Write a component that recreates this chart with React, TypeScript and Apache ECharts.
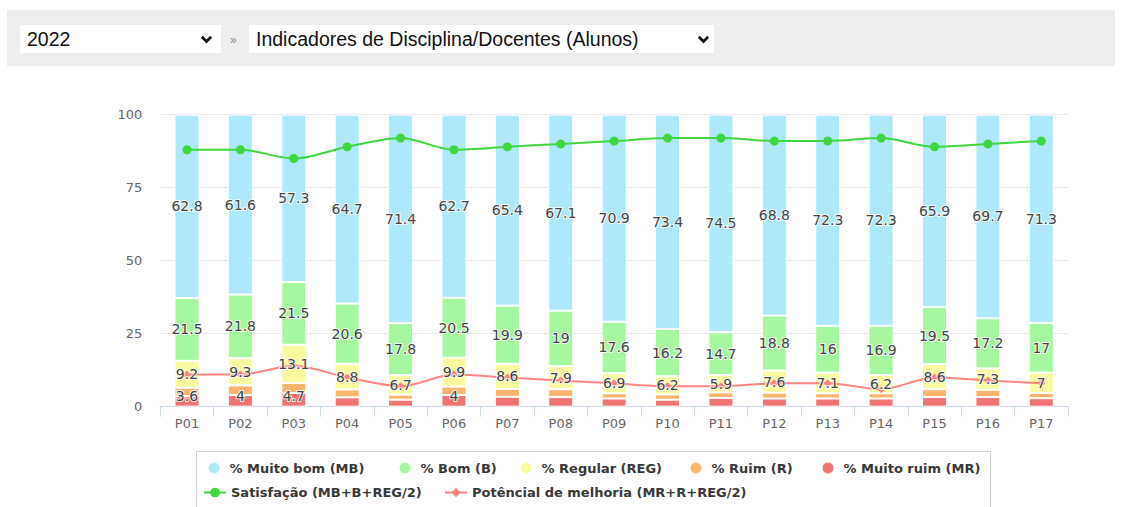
import React, { useEffect, useRef } from "react";
import * as echarts from "echarts";

const categories = ["P01","P02","P03","P04","P05","P06","P07","P08","P09","P10","P11","P12","P13","P14","P15","P16","P17"];
const muitoBom = [62.8,61.6,57.3,64.7,71.4,62.7,65.4,67.1,70.9,73.4,74.5,68.8,72.3,72.3,65.9,69.7,71.3];
const bom = [21.5,21.8,21.5,20.6,17.8,20.5,19.9,19,17.6,16.2,14.7,18.8,16,16.9,19.5,17.2,17];
const regular = [9.2,9.3,13.1,8.8,6.7,9.9,8.6,7.9,6.9,6.2,5.9,7.6,7.1,6.2,8.6,7.3,7];
const ruim = [2.9,3.3,3.4,2.7,1.7,2.9,2.7,2.7,1.8,1.8,1.9,2.0,1.8,1.8,2.7,2.5,1.8];
const muitoRuim = [3.6,4,4.7,3.2,2.4,4,3.4,3.3,2.8,2.4,3.0,2.8,2.8,2.8,3.3,3.3,2.9];
const satisfacao = [88,88,85,89,92,88,89,90,91,92,92,91,91,92,89,90,91];
const potencial = [11,11,14,10,7,11,10,9,8,7,7,8,8,6,10,9,8];

const yMin = 0;
const yMax = 100;
const yInterval = 25;

const names = {
  mb: "% Muito bom (MB)",
  b: "% Bom (B)",
  reg: "% Regular (REG)",
  r: "% Ruim (R)",
  mr: "% Muito ruim (MR)",
  sat: "Satisfação (MB+B+REG/2)",
  pot: "Potêncial de melhoria (MR+R+REG/2)",
};

const colors = {
  mb: "#aee9fb",
  b: "#a5f8a0",
  reg: "#fafaa0",
  r: "#fbb56c",
  mr: "#f07474",
  sat: "#3fd63f",
  pot: "#ff8585",
};

const FONT = '"DejaVu Sans", Verdana, sans-serif';

function Chevron({ left }: { left: number }) {
  return (
    <svg
      style={{ position: "absolute", left, top: 35, width: 13, height: 9 }}
      viewBox="0 0 13 9"
    >
      <polyline points="1.8,1.8 6.5,6.5 11.2,1.8" fill="none" stroke="#111" strokeWidth={2.7} />
    </svg>
  );
}

export default function App() {
  const ref = useRef<HTMLDivElement>(null);

  useEffect(() => {
    if (!ref.current) return;
    const chart = echarts.init(ref.current, null, { renderer: "svg" });

    const labelFmt = (p: any) => (p.value >= 3.5 ? String(p.value) : "");
    const labelStyle = {
      show: true,
      formatter: labelFmt,
      fontFamily: FONT,
      fontSize: 14,
      fontWeight: "normal",
      color: "#444444",
      textBorderColor: "rgba(255,255,255,0.85)",
      textBorderWidth: 2,
    };

    const barDefs = [
      { key: "mr", data: muitoRuim },
      { key: "r", data: ruim },
      { key: "reg", data: regular },
      { key: "b", data: bom },
      { key: "mb", data: muitoBom },
    ];

    const visibleBars = barDefs.map((d) => ({
      name: (names as any)[d.key],
      type: "bar",
      stack: "main",
      barWidth: 25,
      barGap: "-100%",
      data: d.data,
      z: 2,
      itemStyle: { color: (colors as any)[d.key], borderColor: "#ffffff", borderWidth: 1 },
      label: { show: false },
      emphasis: { disabled: true },
    }));

    const labelBars = barDefs.map((d) => ({
      name: "lbl-" + d.key,
      type: "bar",
      stack: "labels",
      barWidth: 25,
      barGap: "-100%",
      data: d.data,
      z: 5,
      silent: true,
      itemStyle: { color: "rgba(0,0,0,0)" },
      label:
        d.key === "mr"
          ? { ...labelStyle, position: "insideBottom", distance: 4 }
          : { ...labelStyle, position: "inside" },
      emphasis: { disabled: true },
    }));

    const legendText = {
      fontFamily: FONT,
      fontSize: 13,
      fontWeight: "bold",
      color: "#383838",
    };

    const row1 = [
      ["mb", 206.5],
      ["b", 397.5],
      ["reg", 518.5],
      ["r", 688.5],
      ["mr", 820.5],
    ];
    const row2 = [
      ["sat", 203],
      ["pot", 444],
    ];

    const legends: any[] = [
      ...row1.map(([k, left]) => ({
        data: [(names as any)[k as string]],
        left: (left as number) - 5,
        top: 460.5 - 5,
        icon: "circle",
        itemWidth: 13,
        itemHeight: 13,
        selectedMode: false,
        textStyle: { ...legendText, padding: [0, 0, 0, 4] },
      })),
      ...row2.map(([k, left]) => ({
        data: [(names as any)[k as string]],
        left: (left as number) - 5,
        top: 486 - 5,
        itemWidth: 22,
        itemHeight: 12,
        selectedMode: false,
        textStyle: { ...legendText },
      })),
    ];

    chart.setOption({
      animation: false,
      backgroundColor: "#ffffff",
      textStyle: { fontFamily: FONT },
      grid: { left: 160.3, width: 907.7, top: 114.7, height: 292, containLabel: false },
      legend: legends,
      graphic: [
        {
          type: "rect",
          shape: { x: 196.5, y: 451.5, width: 794, height: 70 },
          style: { fill: "none", stroke: "#d2d2d2", lineWidth: 1 },
          silent: true,
          z: -1,
        },
      ],
      xAxis: {
        type: "category",
        data: categories,
        axisLine: { show: true, lineStyle: { color: "#ccd6eb", width: 1 } },
        axisTick: { show: true, length: 10, lineStyle: { color: "#ccd6eb" } },
        axisLabel: { color: "#666666", fontSize: 13, margin: 10, fontFamily: FONT },
        splitLine: { show: false },
      },
      yAxis: {
        type: "value",
        min: yMin,
        max: yMax,
        interval: yInterval,
        axisLine: { show: false },
        axisTick: { show: false },
        axisLabel: { color: "#666666", fontSize: 13, margin: 18, fontFamily: FONT },
        splitLine: { lineStyle: { color: "#e6e6e6", width: 1 } },
      },
      series: [
        ...visibleBars,
        {
          name: names.sat,
          type: "line",
          data: satisfacao,
          smooth: 0.3,
          z: 3,
          symbol: "circle",
          symbolSize: 9,
          lineStyle: { color: colors.sat, width: 2 },
          itemStyle: { color: colors.sat },
          emphasis: { disabled: true },
        },
        {
          name: names.pot,
          type: "line",
          data: potencial,
          smooth: 0.3,
          z: 3,
          symbol: "diamond",
          symbolSize: 8,
          lineStyle: { color: colors.pot, width: 2 },
          itemStyle: { color: colors.pot },
          emphasis: { disabled: true },
        },
        ...labelBars,
      ],
    });

    return () => chart.dispose();
  }, []);

  const selectText: React.CSSProperties = {
    position: "absolute",
    top: 25,
    height: 28,
    lineHeight: "28px",
    fontSize: 19.5,
    color: "#111",
    fontFamily: '"Liberation Sans", Arial, sans-serif',
    whiteSpace: "nowrap",
  };

  return (
    <div style={{ position: "absolute", left: 0, top: 0, width: 1122, height: 507, background: "#fff", overflow: "hidden" }}>
      <div ref={ref} style={{ position: "absolute", left: 0, top: 0, width: 1122, height: 507 }} />
      <div style={{ position: "absolute", left: 7, top: 10, width: 1108, height: 56, background: "#eeeeee" }} />
      <div style={{ position: "absolute", left: 20, top: 25, width: 201, height: 28, background: "#ffffff" }} />
      <div style={{ ...selectText, left: 27 }}>2022</div>
      <Chevron left={200} />
      <div style={{ position: "absolute", left: 230, top: 33, fontSize: 12, color: "#888", fontFamily: '"Liberation Sans", Arial, sans-serif' }}>»</div>
      <div style={{ position: "absolute", left: 249, top: 25, width: 465, height: 28, background: "#ffffff" }} />
      <div style={{ ...selectText, left: 256 }}>Indicadores de Disciplina/Docentes (Alunos)</div>
      <Chevron left={697} />
    </div>
  );
}
